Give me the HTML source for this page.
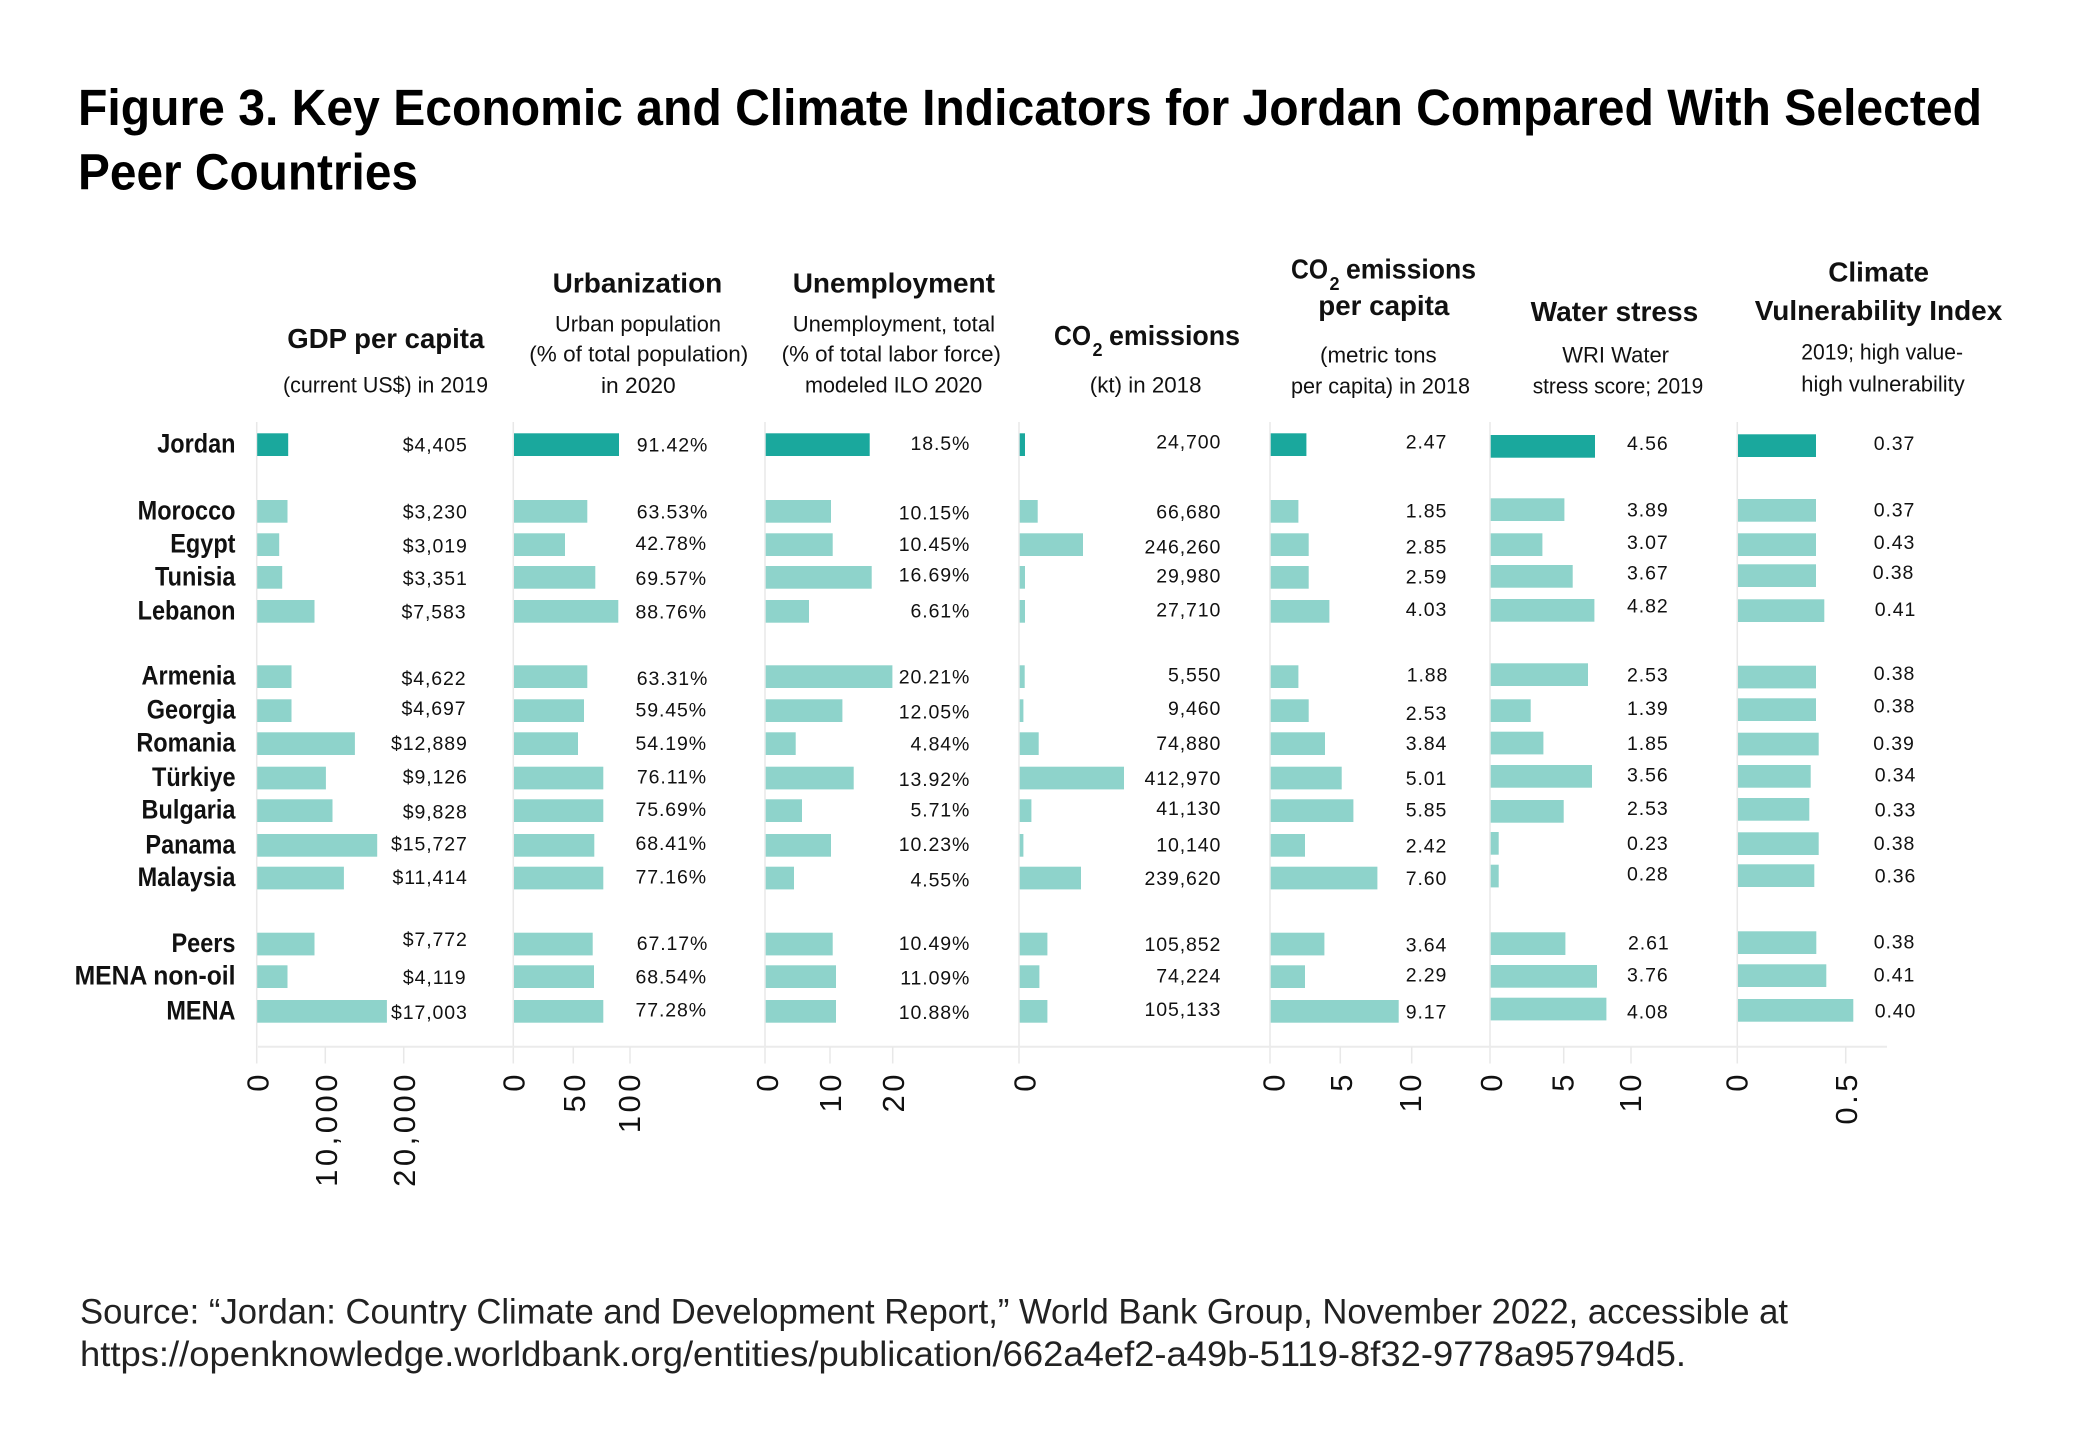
<!DOCTYPE html>
<html>
<head>
<meta charset="utf-8">
<style>
html,body{margin:0;padding:0;background:#fff;}
svg{display:block;}
text{font-family:"Liberation Sans",sans-serif;fill:#111;}
.ttl{font-weight:bold;font-size:51px;fill:#000;}
.h{font-weight:bold;font-size:28px;}
.sub2{font-weight:bold;font-size:18px;}
.s{font-size:22px;}
.r{font-weight:bold;font-size:27px;text-anchor:end;}
.v{font-size:19.5px;letter-spacing:0.9px;text-anchor:end;}
.t{font-size:31px;letter-spacing:3.5px;text-anchor:end;}
.src{font-size:35px;fill:#222;}
.d{fill:#1aa89d;}
.l{fill:#8ed3cb;}
.g{stroke:#e8e8e8;stroke-width:1.5;fill:none;}
</style>
</head>
<body>
<svg width="2084" height="1451" viewBox="0 0 2084 1451" xmlns="http://www.w3.org/2000/svg">
<rect x="0" y="0" width="2084" height="1451" fill="#fff"/>

<!-- Title -->
<text class="ttl" x="78" y="125" textLength="1904" lengthAdjust="spacingAndGlyphs">Figure 3. Key Economic and Climate Indicators for Jordan Compared With Selected</text>
<text class="ttl" x="78" y="189.3" textLength="340" lengthAdjust="spacingAndGlyphs">Peer Countries</text>

<!-- Column headers -->
<text class="h" x="287.3" y="348" textLength="197" lengthAdjust="spacingAndGlyphs">GDP per capita</text>
<text class="s" x="283" y="392.7" textLength="205" lengthAdjust="spacingAndGlyphs">(current US$) in 2019</text>

<text class="h" x="552.7" y="292.7" textLength="169.6" lengthAdjust="spacingAndGlyphs">Urbanization</text>
<text class="s" x="555" y="331.7" textLength="166" lengthAdjust="spacingAndGlyphs">Urban population</text>
<text class="s" x="529.3" y="361.7" textLength="219" lengthAdjust="spacingAndGlyphs">(% of total population)</text>
<text class="s" x="601" y="393" textLength="74.7" lengthAdjust="spacingAndGlyphs">in 2020</text>

<text class="h" x="792.7" y="292.7" textLength="202.3" lengthAdjust="spacingAndGlyphs">Unemployment</text>
<text class="s" x="792.7" y="331.7" textLength="202.3" lengthAdjust="spacingAndGlyphs">Unemployment, total</text>
<text class="s" x="781.7" y="361.7" textLength="219.3" lengthAdjust="spacingAndGlyphs">(% of total labor force)</text>
<text class="s" x="805" y="392.7" textLength="177.3" lengthAdjust="spacingAndGlyphs">modeled ILO 2020</text>

<text class="h" x="1054" y="345" textLength="37" lengthAdjust="spacingAndGlyphs">CO</text>
<text class="sub2" x="1092.5" y="356">2</text>
<text class="h" x="1109" y="345" textLength="131" lengthAdjust="spacingAndGlyphs">emissions</text>
<text class="s" x="1089.8" y="392.7" textLength="111.7" lengthAdjust="spacingAndGlyphs">(kt) in 2018</text>

<text class="h" x="1291" y="278.3" textLength="37" lengthAdjust="spacingAndGlyphs">CO</text>
<text class="sub2" x="1329.5" y="290">2</text>
<text class="h" x="1346" y="278.3" textLength="130" lengthAdjust="spacingAndGlyphs">emissions</text>
<text class="h" x="1318.3" y="315" textLength="131" lengthAdjust="spacingAndGlyphs">per capita</text>
<text class="s" x="1320" y="362.7" textLength="116.7" lengthAdjust="spacingAndGlyphs">(metric tons</text>
<text class="s" x="1291" y="393.3" textLength="179" lengthAdjust="spacingAndGlyphs">per capita) in 2018</text>

<text class="h" x="1530.7" y="321" textLength="167.6" lengthAdjust="spacingAndGlyphs">Water stress</text>
<text class="s" x="1562.3" y="362.7" textLength="106.7" lengthAdjust="spacingAndGlyphs">WRI Water</text>
<text class="s" x="1532.7" y="393.3" textLength="170.6" lengthAdjust="spacingAndGlyphs">stress score; 2019</text>

<text class="h" x="1828.3" y="281.7" textLength="100.7" lengthAdjust="spacingAndGlyphs">Climate</text>
<text class="h" x="1754.7" y="320" textLength="247.6" lengthAdjust="spacingAndGlyphs">Vulnerability Index</text>
<text class="s" x="1801.3" y="359.3" textLength="161.7" lengthAdjust="spacingAndGlyphs">2019; high value-</text>
<text class="s" x="1801.3" y="391.7" textLength="163.4" lengthAdjust="spacingAndGlyphs">high vulnerability</text>

<!-- Gridlines (zero lines) -->
<line class="g" x1="256.7" y1="422" x2="256.7" y2="1063.5"/>
<line class="g" x1="513.3" y1="422" x2="513.3" y2="1063.5"/>
<line class="g" x1="765" y1="422" x2="765" y2="1063.5"/>
<line class="g" x1="1019" y1="422" x2="1019" y2="1063.5"/>
<line class="g" x1="1270" y1="422" x2="1270" y2="1063.5"/>
<line class="g" x1="1490" y1="422" x2="1490" y2="1063.5"/>
<line class="g" x1="1737.3" y1="422" x2="1737.3" y2="1063.5"/>
<line x1="258" y1="1046.7" x2="1887" y2="1046.7" stroke="#ebebeb" stroke-width="2"/>
<g class="g">
<line x1="325.3" y1="1047" x2="325.3" y2="1063.5"/>
<line x1="403.7" y1="1047" x2="403.7" y2="1063.5"/>
<line x1="573.3" y1="1047" x2="573.3" y2="1063.5"/>
<line x1="630" y1="1047" x2="630" y2="1063.5"/>
<line x1="830" y1="1047" x2="830" y2="1063.5"/>
<line x1="892.7" y1="1047" x2="892.7" y2="1063.5"/>
<line x1="1340.3" y1="1047" x2="1340.3" y2="1063.5"/>
<line x1="1411.7" y1="1047" x2="1411.7" y2="1063.5"/>
<line x1="1563.7" y1="1047" x2="1563.7" y2="1063.5"/>
<line x1="1631" y1="1047" x2="1631" y2="1063.5"/>
<line x1="1845.7" y1="1047" x2="1845.7" y2="1063.5"/>
</g>

<!-- Row labels -->
<g transform="translate(235.5,0) scale(0.87,1)">
<text class="r" x="0" y="452.7">Jordan</text>
<text class="r" x="0" y="519.3">Morocco</text>
<text class="r" x="0" y="552.7">Egypt</text>
<text class="r" x="0" y="585.3">Tunisia</text>
<text class="r" x="0" y="619.3">Lebanon</text>
<text class="r" x="0" y="684.7">Armenia</text>
<text class="r" x="0" y="718.7">Georgia</text>
<text class="r" x="0" y="751.7">Romania</text>
<text class="r" x="0" y="786">Türkiye</text>
<text class="r" x="0" y="818.7">Bulgaria</text>
<text class="r" x="0" y="853.3">Panama</text>
<text class="r" x="0" y="886">Malaysia</text>
<text class="r" x="0" y="952">Peers</text>
<text class="r" x="0" y="1019.3">MENA</text>
</g>
<g transform="translate(235.5,0) scale(0.915,1)">
<text class="r" x="0" y="984.7">MENA non-oil</text>
</g>

<!-- GDP bars -->
<rect class="d" x="257.2" y="433.3" width="31" height="22.7"/>
<rect class="l" x="257.2" y="500" width="30.3" height="22.7"/>
<rect class="l" x="257.2" y="533.3" width="22" height="22.7"/>
<rect class="l" x="257.2" y="566" width="25" height="22.7"/>
<rect class="l" x="257.2" y="600" width="57.3" height="22.7"/>
<rect class="l" x="257.2" y="665.3" width="34.3" height="22.7"/>
<rect class="l" x="257.2" y="699.3" width="34.3" height="22.7"/>
<rect class="l" x="257.2" y="732.3" width="97.7" height="22.7"/>
<rect class="l" x="257.2" y="766.7" width="68.7" height="22.7"/>
<rect class="l" x="257.2" y="799.3" width="75.3" height="22.7"/>
<rect class="l" x="257.2" y="834" width="120" height="22.7"/>
<rect class="l" x="257.2" y="866.7" width="86.7" height="22.7"/>
<rect class="l" x="257.2" y="932.7" width="57.3" height="22.7"/>
<rect class="l" x="257.2" y="965.3" width="30.3" height="22.7"/>
<rect class="l" x="257.2" y="1000" width="129.7" height="22.7"/>

<!-- Urban bars -->
<rect class="d" x="514" y="433.3" width="105" height="22.7"/>
<rect class="l" x="514" y="500" width="73.3" height="22.7"/>
<rect class="l" x="514" y="533.3" width="51" height="22.7"/>
<rect class="l" x="514" y="566" width="81.3" height="22.7"/>
<rect class="l" x="514" y="600" width="104.3" height="22.7"/>
<rect class="l" x="514" y="665.3" width="73.3" height="22.7"/>
<rect class="l" x="514" y="699.3" width="70" height="22.7"/>
<rect class="l" x="514" y="732.3" width="64" height="22.7"/>
<rect class="l" x="514" y="766.7" width="89.3" height="22.7"/>
<rect class="l" x="514" y="799.3" width="89.3" height="22.7"/>
<rect class="l" x="514" y="834" width="80.3" height="22.7"/>
<rect class="l" x="514" y="866.7" width="89.3" height="22.7"/>
<rect class="l" x="514" y="932.7" width="78.7" height="22.7"/>
<rect class="l" x="514" y="965.3" width="80" height="22.7"/>
<rect class="l" x="514" y="1000" width="89.3" height="22.7"/>

<!-- Unemployment bars -->
<rect class="d" x="765.7" y="433.3" width="104" height="22.7"/>
<rect class="l" x="765.7" y="500" width="65.3" height="22.7"/>
<rect class="l" x="765.7" y="533.3" width="67" height="22.7"/>
<rect class="l" x="765.7" y="566" width="106" height="22.7"/>
<rect class="l" x="765.7" y="600" width="43.3" height="22.7"/>
<rect class="l" x="765.7" y="665.3" width="126.7" height="22.7"/>
<rect class="l" x="765.7" y="699.3" width="76.7" height="22.7"/>
<rect class="l" x="765.7" y="732.3" width="30" height="22.7"/>
<rect class="l" x="765.7" y="766.7" width="88" height="22.7"/>
<rect class="l" x="765.7" y="799.3" width="36.3" height="22.7"/>
<rect class="l" x="765.7" y="834" width="65.3" height="22.7"/>
<rect class="l" x="765.7" y="866.7" width="28.3" height="22.7"/>
<rect class="l" x="765.7" y="932.7" width="67" height="22.7"/>
<rect class="l" x="765.7" y="965.3" width="70.3" height="22.7"/>
<rect class="l" x="765.7" y="1000" width="70.3" height="22.7"/>

<!-- CO2 bars -->
<rect class="d" x="1019.7" y="433.3" width="5.3" height="22.7"/>
<rect class="l" x="1019.7" y="500" width="18" height="22.7"/>
<rect class="l" x="1019.7" y="533.3" width="63.3" height="22.7"/>
<rect class="l" x="1019.7" y="566" width="5.3" height="22.7"/>
<rect class="l" x="1019.7" y="600" width="5.3" height="22.7"/>
<rect class="l" x="1019.7" y="665.3" width="5" height="22.7"/>
<rect class="l" x="1019.7" y="699.3" width="3.7" height="22.7"/>
<rect class="l" x="1019.7" y="732.3" width="19" height="22.7"/>
<rect class="l" x="1019.7" y="766.7" width="104.3" height="22.7"/>
<rect class="l" x="1019.7" y="799.3" width="11.7" height="22.7"/>
<rect class="l" x="1019.7" y="834" width="3.7" height="22.7"/>
<rect class="l" x="1019.7" y="866.7" width="61.3" height="22.7"/>
<rect class="l" x="1019.7" y="932.7" width="27.7" height="22.7"/>
<rect class="l" x="1019.7" y="965.3" width="19.7" height="22.7"/>
<rect class="l" x="1019.7" y="1000" width="27.7" height="22.7"/>

<!-- CO2 per capita bars -->
<rect class="d" x="1270.7" y="433.3" width="35.7" height="22.7"/>
<rect class="l" x="1270.7" y="500" width="27.7" height="22.7"/>
<rect class="l" x="1270.7" y="533.3" width="38" height="22.7"/>
<rect class="l" x="1270.7" y="566" width="38" height="22.7"/>
<rect class="l" x="1270.7" y="600" width="58.7" height="22.7"/>
<rect class="l" x="1270.7" y="665.3" width="27.7" height="22.7"/>
<rect class="l" x="1270.7" y="699.3" width="38" height="22.7"/>
<rect class="l" x="1270.7" y="732.3" width="54.3" height="22.7"/>
<rect class="l" x="1270.7" y="766.7" width="71" height="22.7"/>
<rect class="l" x="1270.7" y="799.3" width="82.7" height="22.7"/>
<rect class="l" x="1270.7" y="834" width="34.3" height="22.7"/>
<rect class="l" x="1270.7" y="866.7" width="106.7" height="22.7"/>
<rect class="l" x="1270.7" y="932.7" width="53.7" height="22.7"/>
<rect class="l" x="1270.7" y="965.3" width="34.3" height="22.7"/>
<rect class="l" x="1270.7" y="1000" width="128" height="22.7"/>

<!-- Water stress bars -->
<rect class="d" x="1490.7" y="435" width="104.3" height="22.7"/>
<rect class="l" x="1490.7" y="498.3" width="73.7" height="22.7"/>
<rect class="l" x="1490.7" y="533.3" width="51.7" height="22.7"/>
<rect class="l" x="1490.7" y="565" width="82" height="22.7"/>
<rect class="l" x="1490.7" y="599" width="103.7" height="22.7"/>
<rect class="l" x="1490.7" y="663.3" width="97.3" height="22.7"/>
<rect class="l" x="1490.7" y="699.3" width="40" height="22.7"/>
<rect class="l" x="1490.7" y="731.7" width="52.7" height="22.7"/>
<rect class="l" x="1490.7" y="765" width="101.3" height="22.7"/>
<rect class="l" x="1490.7" y="800" width="73" height="22.7"/>
<rect class="l" x="1490.7" y="832" width="8" height="22.7"/>
<rect class="l" x="1490.7" y="864.7" width="8" height="22.7"/>
<rect class="l" x="1490.7" y="932.3" width="74.7" height="22.7"/>
<rect class="l" x="1490.7" y="965" width="106.3" height="22.7"/>
<rect class="l" x="1490.7" y="997.7" width="115.7" height="22.7"/>

<!-- CVI bars -->
<rect class="d" x="1738" y="434.3" width="78" height="22.7"/>
<rect class="l" x="1738" y="499" width="78" height="22.7"/>
<rect class="l" x="1738" y="533.3" width="78" height="22.7"/>
<rect class="l" x="1738" y="564.3" width="78" height="22.7"/>
<rect class="l" x="1738" y="599.3" width="86.3" height="22.7"/>
<rect class="l" x="1738" y="665.7" width="78" height="22.7"/>
<rect class="l" x="1738" y="698.3" width="78" height="22.7"/>
<rect class="l" x="1738" y="732.7" width="80.7" height="22.7"/>
<rect class="l" x="1738" y="765" width="72.7" height="22.7"/>
<rect class="l" x="1738" y="798" width="71.3" height="22.7"/>
<rect class="l" x="1738" y="832.3" width="80.7" height="22.7"/>
<rect class="l" x="1738" y="864.3" width="76.3" height="22.7"/>
<rect class="l" x="1738" y="931.3" width="78.3" height="22.7"/>
<rect class="l" x="1738" y="964.3" width="88.3" height="22.7"/>
<rect class="l" x="1738" y="999" width="115.3" height="22.7"/>

<!-- GDP values -->
<text class="v" x="467.8" y="451.7">$4,405</text>
<text class="v" x="467.8" y="518.3">$3,230</text>
<text class="v" x="467.8" y="552.3">$3,019</text>
<text class="v" x="467.8" y="585">$3,351</text>
<text class="v" x="466.5" y="618.3">$7,583</text>
<text class="v" x="466.5" y="685">$4,622</text>
<text class="v" x="466.5" y="715">$4,697</text>
<text class="v" x="467.8" y="750">$12,889</text>
<text class="v" x="467.8" y="783.3">$9,126</text>
<text class="v" x="467.8" y="818.3">$9,828</text>
<text class="v" x="467.8" y="850.7">$15,727</text>
<text class="v" x="467.8" y="884">$11,414</text>
<text class="v" x="467.8" y="946">$7,772</text>
<text class="v" x="466.5" y="984">$4,119</text>
<text class="v" x="467.8" y="1019">$17,003</text>

<!-- Urban values -->
<text class="v" x="708.3" y="451.7">91.42%</text>
<text class="v" x="708.3" y="518.3">63.53%</text>
<text class="v" x="707" y="550">42.78%</text>
<text class="v" x="707" y="585">69.57%</text>
<text class="v" x="707" y="618.3">88.76%</text>
<text class="v" x="708.3" y="685">63.31%</text>
<text class="v" x="707" y="716.7">59.45%</text>
<text class="v" x="707" y="750">54.19%</text>
<text class="v" x="707" y="783.3">76.11%</text>
<text class="v" x="707" y="816">75.69%</text>
<text class="v" x="707" y="850">68.41%</text>
<text class="v" x="707" y="883.3">77.16%</text>
<text class="v" x="708.3" y="950">67.17%</text>
<text class="v" x="707" y="983.3">68.54%</text>
<text class="v" x="707" y="1016.7">77.28%</text>

<!-- Unemployment values -->
<text class="v" x="970.3" y="450">18.5%</text>
<text class="v" x="970.3" y="519.3">10.15%</text>
<text class="v" x="970.3" y="551">10.45%</text>
<text class="v" x="970.3" y="581.7">16.69%</text>
<text class="v" x="970.3" y="617.7">6.61%</text>
<text class="v" x="970.3" y="683.3">20.21%</text>
<text class="v" x="970.3" y="718.3">12.05%</text>
<text class="v" x="970.3" y="750.7">4.84%</text>
<text class="v" x="970.3" y="786">13.92%</text>
<text class="v" x="970.3" y="816.7">5.71%</text>
<text class="v" x="970.3" y="851">10.23%</text>
<text class="v" x="970.3" y="886.7">4.55%</text>
<text class="v" x="970.3" y="950">10.49%</text>
<text class="v" x="970.3" y="984.3">11.09%</text>
<text class="v" x="970.3" y="1019">10.88%</text>

<!-- CO2 values -->
<text class="v" x="1221.3" y="448.3">24,700</text>
<text class="v" x="1221.3" y="518.3">66,680</text>
<text class="v" x="1221.3" y="553.3">246,260</text>
<text class="v" x="1221.3" y="582.7">29,980</text>
<text class="v" x="1221.3" y="616.7">27,710</text>
<text class="v" x="1221.3" y="681.7">5,550</text>
<text class="v" x="1221.3" y="715">9,460</text>
<text class="v" x="1221.3" y="750">74,880</text>
<text class="v" x="1221.3" y="785">412,970</text>
<text class="v" x="1221.3" y="815">41,130</text>
<text class="v" x="1221.3" y="851.7">10,140</text>
<text class="v" x="1221.3" y="885">239,620</text>
<text class="v" x="1221.3" y="951">105,852</text>
<text class="v" x="1221.3" y="982.7">74,224</text>
<text class="v" x="1221.3" y="1016">105,133</text>

<!-- CO2 per capita values -->
<text class="v" x="1447.3" y="448.3">2.47</text>
<text class="v" x="1447.3" y="517.7">1.85</text>
<text class="v" x="1447.3" y="553.3">2.85</text>
<text class="v" x="1447.3" y="583.3">2.59</text>
<text class="v" x="1447.3" y="616">4.03</text>
<text class="v" x="1448.3" y="681.7">1.88</text>
<text class="v" x="1447.3" y="720">2.53</text>
<text class="v" x="1447.3" y="750">3.84</text>
<text class="v" x="1447.3" y="785">5.01</text>
<text class="v" x="1447.3" y="816.7">5.85</text>
<text class="v" x="1447.3" y="852.3">2.42</text>
<text class="v" x="1447.3" y="885">7.60</text>
<text class="v" x="1447.3" y="951.7">3.64</text>
<text class="v" x="1447.3" y="981.7">2.29</text>
<text class="v" x="1447.3" y="1018.3">9.17</text>

<!-- Water values -->
<text class="v" x="1668.6" y="450">4.56</text>
<text class="v" x="1668.6" y="516.7">3.89</text>
<text class="v" x="1668.6" y="549">3.07</text>
<text class="v" x="1668.6" y="579.3">3.67</text>
<text class="v" x="1668.6" y="612.7">4.82</text>
<text class="v" x="1668.6" y="681.7">2.53</text>
<text class="v" x="1668.6" y="715">1.39</text>
<text class="v" x="1668.6" y="750">1.85</text>
<text class="v" x="1668.6" y="781.7">3.56</text>
<text class="v" x="1668.6" y="815">2.53</text>
<text class="v" x="1668.6" y="850">0.23</text>
<text class="v" x="1668.6" y="880.7">0.28</text>
<text class="v" x="1669.6" y="949.3">2.61</text>
<text class="v" x="1668.6" y="981.7">3.76</text>
<text class="v" x="1668.6" y="1018.3">4.08</text>

<!-- CVI values -->
<text class="v" x="1915.3" y="450">0.37</text>
<text class="v" x="1915.3" y="516.7">0.37</text>
<text class="v" x="1915.3" y="549">0.43</text>
<text class="v" x="1914.3" y="579">0.38</text>
<text class="v" x="1916.3" y="616">0.41</text>
<text class="v" x="1915.3" y="680">0.38</text>
<text class="v" x="1915.3" y="712.7">0.38</text>
<text class="v" x="1914.8" y="750">0.39</text>
<text class="v" x="1916.3" y="781.7">0.34</text>
<text class="v" x="1916.3" y="816.7">0.33</text>
<text class="v" x="1915.3" y="850">0.38</text>
<text class="v" x="1916.3" y="882.7">0.36</text>
<text class="v" x="1915.3" y="948.3">0.38</text>
<text class="v" x="1915.3" y="981.7">0.41</text>
<text class="v" x="1916.3" y="1017.3">0.40</text>

<!-- Tick labels (rotated) -->
<text class="t" transform="translate(268.6,1071) rotate(-90)">0</text>
<text class="t" transform="translate(337.1,1071) rotate(-90)">10,000</text>
<text class="t" transform="translate(415.1,1071) rotate(-90)">20,000</text>
<text class="t" transform="translate(524.4,1071) rotate(-90)">0</text>
<text class="t" transform="translate(584.9,1071) rotate(-90)">50</text>
<text class="t" transform="translate(640.1,1071) rotate(-90)">100</text>
<text class="t" transform="translate(777.8,1071) rotate(-90)">0</text>
<text class="t" transform="translate(841.1,1071) rotate(-90)">10</text>
<text class="t" transform="translate(903.8,1071) rotate(-90)">20</text>
<text class="t" transform="translate(1035.6,1071) rotate(-90)">0</text>
<text class="t" transform="translate(1284.4,1071) rotate(-90)">0</text>
<text class="t" transform="translate(1352.1,1071) rotate(-90)">5</text>
<text class="t" transform="translate(1421.1,1071) rotate(-90)">10</text>
<text class="t" transform="translate(1502.1,1071) rotate(-90)">0</text>
<text class="t" transform="translate(1573.6,1071) rotate(-90)">5</text>
<text class="t" transform="translate(1641.1,1071) rotate(-90)">10</text>
<text class="t" transform="translate(1747.4,1071) rotate(-90)">0</text>
<text class="t" transform="translate(1856.8,1071) rotate(-90)">0.5</text>

<!-- Source -->
<text class="src" x="80" y="1323.3" textLength="1708" lengthAdjust="spacingAndGlyphs">Source: “Jordan: Country Climate and Development Report,” World Bank Group, November 2022, accessible at</text>
<text class="src" x="80" y="1366" textLength="1606" lengthAdjust="spacingAndGlyphs">https://openknowledge.worldbank.org/entities/publication/662a4ef2-a49b-5119-8f32-9778a95794d5.</text>
</svg>
</body>
</html>
